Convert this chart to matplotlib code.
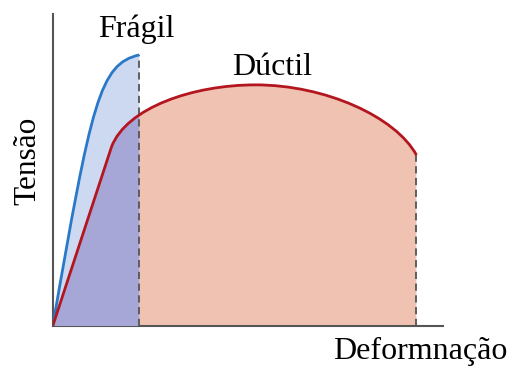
import matplotlib
matplotlib.use("Agg")
import matplotlib.pyplot as plt
from matplotlib.path import Path
from matplotlib.patches import PathPatch

# strain / stress (normalised)
# brittle: one cubic bezier from origin to fracture point
fragil_pts = [(0.0, 0.0), (0.10, 0.72), (0.12, 0.84), (0.222, 0.869)]
fragil_codes = [Path.MOVETO, Path.CURVE4, Path.CURVE4, Path.CURVE4]

# ductile: elastic line, then two cubic beziers (up to peak, down to fracture)
ductil_pts = [(0.0, 0.0), (0.151, 0.575),
              (0.19, 0.70), (0.36, 0.773), (0.52, 0.773),
              (0.70, 0.773), (0.88, 0.67), (0.933, 0.548)]
ductil_codes = [Path.MOVETO, Path.LINETO,
                Path.CURVE4, Path.CURVE4, Path.CURVE4,
                Path.CURVE4, Path.CURVE4, Path.CURVE4]

ruptura_x = [0.222, 0.933]
ruptura_y = [0.869, 0.548]

def closed(pts, codes):
    # close the area down to the strain axis
    x_end = pts[-1][0]
    return Path(pts + [(x_end, 0.0), (0.0, 0.0)],
                codes + [Path.LINETO, Path.CLOSEPOLY])

fig = plt.figure(figsize=(5.17, 3.67), dpi=100)
ax = fig.add_axes([0.102, 0.1117, 0.754, 0.850])

area_d = PathPatch(closed(ductil_pts, ductil_codes), fc="#efc2b1", ec="none", zorder=1)
area_f = PathPatch(closed(fragil_pts, fragil_codes), fc="#cdd9f1", ec="none", zorder=2)
ax.add_patch(area_d)
ax.add_patch(area_f)
# overlap of both areas
overlap = PathPatch(closed(ductil_pts, ductil_codes), fc="#a7a7d7", ec="none", zorder=3)
ax.add_patch(overlap)
overlap.set_clip_path(area_f)

for xr, yr in zip(ruptura_x, ruptura_y):
    ax.plot([xr, xr], [0, yr], color="#555555", lw=1.3, ls=(0, (4, 2.5)), zorder=4)

ax.add_patch(PathPatch(Path(fragil_pts, fragil_codes), fc="none", ec="#2a79c8", lw=2.0, zorder=5))
ax.add_patch(PathPatch(Path(ductil_pts, ductil_codes), fc="none", ec="#b3161f", lw=2.0, zorder=5))

ax.set_xlim(0, 1)
ax.set_ylim(0, 1)
ax.set_xticks([])
ax.set_yticks([])
for s in ["top", "right"]:
    ax.spines[s].set_visible(False)
for s in ["left", "bottom"]:
    ax.spines[s].set_color("#555555")
    ax.spines[s].set_linewidth(1.5)
ax.patch.set_visible(False)

fnt = dict(family="Liberation Serif", size=23)
ax.text(0.214, 0.926, "Frágil", ha="center", va="baseline", **fnt)
ax.text(0.563, 0.806, "Dúctil", ha="center", va="baseline", **fnt)
ax.text(0.944, -0.106, "Deformnação", ha="center", va="baseline", clip_on=False, **fnt)
ax.text(-0.045, 0.529, "Tensão", ha="center", va="baseline", rotation=90,
        rotation_mode="anchor", clip_on=False, family="Liberation Serif", size=22.5)

fig.savefig("out.png", dpi=100)
